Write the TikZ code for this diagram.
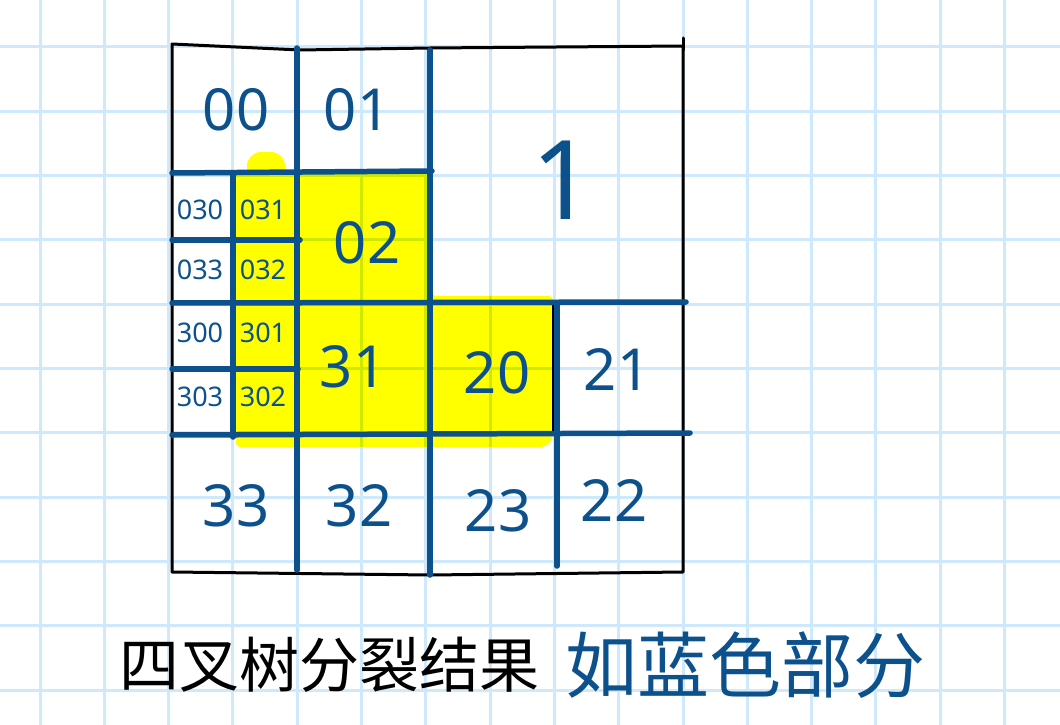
\documentclass[tikz,border=0pt]{standalone}
\usepackage{fontspec}
\newfontfamily\cjkfont{Noto Sans CJK SC}
\newfontfamily\numfont{Noto Sans}
\usepackage{tikz}
\usetikzlibrary{positioning}
\definecolor{paperblue}{RGB}{205,233,251}
\definecolor{inkblue}{RGB}{12,80,140}
\definecolor{markyellow}{RGB}{255,255,0}
\tikzstyle{gridline} = [draw=paperblue, line width=3pt]
\tikzstyle{frameline} = [draw=black, line width=3pt, line cap=round, line join=round]
\tikzstyle{splitline} = [draw=inkblue, line width=5.5pt, line cap=round]
\tikzstyle{highlight} = [fill=markyellow, rounded corners=4pt]
\tikzstyle{cellnum} = [text=inkblue, font=\numfont\fontsize{58}{58}\selectfont, inner sep=0pt]
\tikzstyle{smallnum} = [text=inkblue, font=\numfont\fontsize{27}{27}\selectfont, inner sep=0pt]

\begin{document}
\begin{tikzpicture}[x=1pt, y=-1pt]
  \useasboundingbox (0,0) rectangle (1060,725);

  % papel cuadriculado
  \foreach \i in {0,...,15} {
    \draw [gridline] ({40+64.3*\i},0) -- ({40+64.3*\i},725);
  }
  \foreach \j in {0,...,10} {
    \draw [gridline] (0,{47+64.3*\j}) -- (1060,{47+64.3*\j});
  }

  % zonas resaltadas
  \begin{scope}[blend mode=multiply]
    \fill [highlight] (236,170) -- (236,447) -- (545,447) -- (553,438)
      -- (553,296) -- (432,296) -- (432,170) -- cycle;
    \fill [highlight, rounded corners=14pt] (247,152) rectangle (285,190);
  \end{scope}

  % marco exterior
  \draw [frameline] (172,44) -- (300,50) -- (430,48) -- (683,46)
    -- (683,572) -- (430,575) -- (172,572) -- cycle;
  \draw [frameline] (683,38) -- (683,50);
  \draw [draw=black, line width=1.5pt] (553,305) -- (553,435);

  % divisiones
  \draw [splitline] (172,173) -- (432,171);
  \draw [splitline] (172,240) -- (300,240);
  \draw [splitline] (172,303) -- (686,302);
  \draw [splitline] (172,369) -- (298,369);
  \draw [splitline] (172,435) -- (690,433);
  \draw [splitline] (297,48) -- (297,570);
  \draw [splitline] (430,50) -- (430,575);
  \draw [splitline] (557,303) -- (557,566);
  \draw [splitline] (233,173) -- (233,437);

  % etiquetas
  \node [cellnum] (n00) at (236,110) {00};
  \node [cellnum] (n01) at (357,110) {01};
  \node [cellnum, font=\numfont\fontsize{110}{110}\selectfont] (n1) at (563,180) {1};
  \node [cellnum] (n02) at (367,243) {02};
  \node [smallnum] (n030) at (200,210) {030};
  \node [smallnum] (n031) at (263,210) {031};
  \node [smallnum] (n033) at (200,270) {033};
  \node [smallnum] (n032) at (263,270) {032};
  \node [smallnum] (n300) at (200,333) {300};
  \node [smallnum] (n301) at (263,333) {301};
  \node [smallnum] (n303) at (200,397) {303};
  \node [smallnum] (n302) at (263,397) {302};
  \node [cellnum] (n31) at (353,367) {31};
  \node [cellnum] (n20) at (497,373) {20};
  \node [cellnum] (n21) at (617,370) {21};
  \node [cellnum] (n33) at (236,506) {33};
  \node [cellnum] (n32) at (359,506) {32};
  \node [cellnum] (n23) at (498,511) {23};
  \node [cellnum] (n22) at (614,500) {22};

  % leyenda
  \node [font=\cjkfont\fontsize{60}{60}\selectfont, inner sep=0pt] (caption) at (329,665) {四叉树分裂结果};
  \node [font=\cjkfont\fontsize{72}{72}\selectfont, text=inkblue, inner sep=0pt,
    right=26pt of caption] (note) {如蓝色部分};
\end{tikzpicture}
\end{document}
